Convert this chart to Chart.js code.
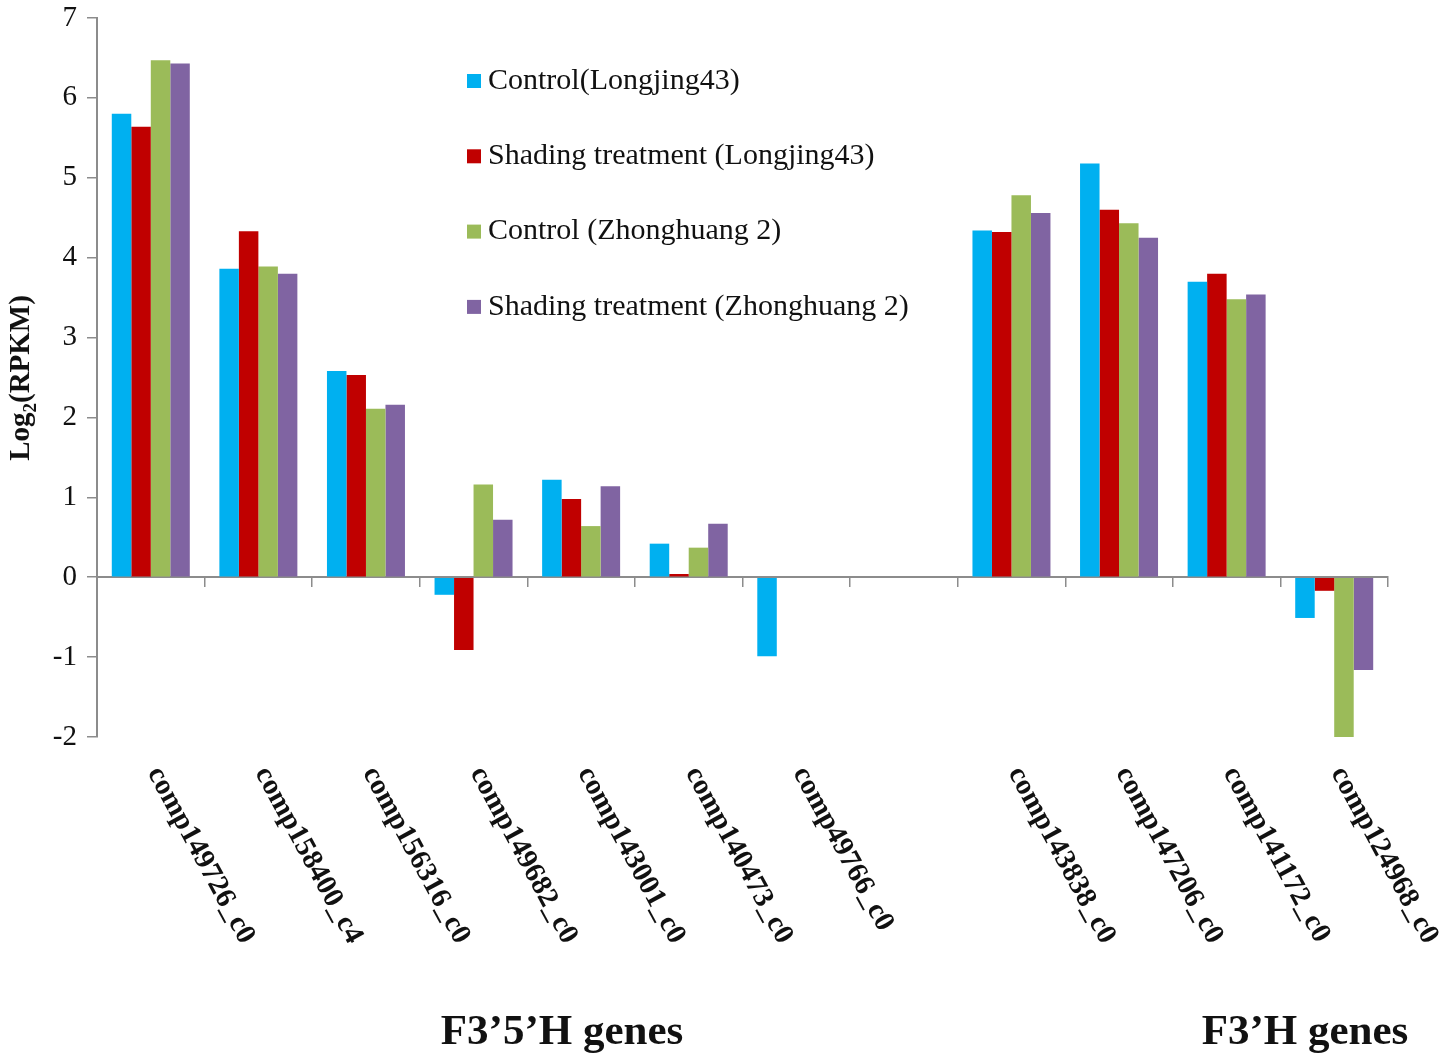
<!DOCTYPE html>
<html>
<head>
<meta charset="utf-8">
<script src="https://cdn.jsdelivr.net/npm/chart.js@4/dist/chart.umd.min.js"></script>
<style>
  html, body { margin: 0; padding: 0; background: #fff; }
  #wrap { position: relative; width: 1455px; height: 1057px; }
</style>
</head>
<body>
<div id="wrap"><canvas id="genesChart"></canvas></div>
<script>
const categories = ['comp149726_c0', 'comp158400_c4', 'comp156316_c0', 'comp149682_c0', 'comp143001_c0',
  'comp140473_c0', 'comp49766_c0', '', 'comp143838_c0', 'comp147206_c0', 'comp141172_c0', 'comp124968_c0'];

const controlLongjing = [5.80, 3.86, 2.58, -0.22, 1.22, 0.42, -0.99, null, 4.34, 5.18, 3.70, -0.51];
const shadingLongjing = [5.64, 4.33, 2.53, -0.91, 0.98, 0.04, null, null, 4.32, 4.60, 3.80, -0.17];
const controlZhonghuang = [6.47, 3.89, 2.11, 1.16, 0.64, 0.37, null, null, 4.78, 4.43, 3.48, -2.0];
const shadingZhonghuang = [6.43, 3.80, 2.16, 0.72, 1.14, 0.67, null, null, 4.56, 4.25, 3.54, -1.16];

const seriesLabels = ['Control(Longjing43)', 'Shading treatment (Longjing43)',
  'Control (Zhonghuang 2)', 'Shading treatment (Zhonghuang 2)'];
const seriesColors = ['#00B0F0', '#C00000', '#9BBB59', '#8064A2'];

const yTicks = { min: -2, max: 7, step: 1 };
const groupTitles = [
  { text: 'F3\u20195\u2019H genes', x: 562 },
  { text: 'F3\u2019H genes', x: 1305 }
];

const serif = '"Liberation Serif", "Times New Roman", serif';
const axisGrey = '#8c8c8c';

// legend, rotated category labels, y title and group titles
const annotations = {
  id: 'annotations',
  afterDraw(chart) {
    const ctx = chart.ctx;
    const x = chart.scales.x;
    ctx.save();
    ctx.fillStyle = '#111';

    // category labels, turned clockwise
    ctx.font = 'bold 29px ' + serif;
    ctx.textAlign = 'left';
    ctx.textBaseline = 'middle';
    categories.forEach((name, i) => {
      if (!name) return;
      const px = x.getPixelForValue(i);
      ctx.save();
      ctx.translate(px + 3, 769);
      ctx.rotate(61.5 * Math.PI / 180);
      ctx.fillText(name, 0, 0);
      ctx.restore();
    });

    // y axis title with subscript
    ctx.save();
    ctx.translate(22, 378);
    ctx.rotate(-Math.PI / 2);
    ctx.font = 'bold 29px ' + serif;
    const w1 = ctx.measureText('Log').width;
    ctx.font = 'bold 19px ' + serif;
    const w2 = ctx.measureText('2').width;
    ctx.font = 'bold 29px ' + serif;
    const w3 = ctx.measureText('(RPKM)').width;
    let start = -(w1 + w2 + w3) / 2;
    ctx.textBaseline = 'middle';
    ctx.fillText('Log', start, 0);
    ctx.font = 'bold 19px ' + serif;
    ctx.fillText('2', start + w1, 9);
    ctx.font = 'bold 29px ' + serif;
    ctx.fillText('(RPKM)', start + w1 + w2, 0);
    ctx.restore();

    // legend
    ctx.font = '30px ' + serif;
    ctx.textBaseline = 'middle';
    chart.data.datasets.forEach((ds, i) => {
      const cy = 81 + i * 75.3;
      ctx.fillStyle = ds.backgroundColor;
      ctx.fillRect(467, cy - 7, 14, 14);
      ctx.fillStyle = '#111';
      ctx.fillText(ds.label, 488, cy);
    });

    // group titles
    ctx.font = 'bold 43px ' + serif;
    ctx.textAlign = 'center';
    groupTitles.forEach(g => ctx.fillText(g.text, g.x, 1033));
    ctx.restore();
  }
};

const ctx = document.getElementById('genesChart').getContext('2d');
new Chart(ctx, {
  type: 'bar',
  data: {
    labels: categories,
    datasets: [controlLongjing, shadingLongjing, controlZhonghuang, shadingZhonghuang].map((values, i) => ({
      label: seriesLabels[i],
      data: values,
      backgroundColor: seriesColors[i],
      borderWidth: 0,
      barPercentage: 1,
      categoryPercentage: 0.725
    }))
  },
  options: {
    responsive: true,
    maintainAspectRatio: false,
    animation: false,
    layout: { padding: { top: 18, right: 67, bottom: 320, left: 0 } },
    scales: {
      x: {
        position: { y: 0 },
        ticks: { display: false },
        grid: {
          offset: true,
          drawOnChartArea: false,
          drawTicks: true,
          tickLength: 9,
          color: axisGrey,
          lineWidth: 1.5
        },
        border: { color: axisGrey, width: 2 }
      },
      y: {
        min: yTicks.min,
        max: yTicks.max,
        afterFit(scale) {
          scale.width = 97;
          scale.paddingTop = 0;
          scale.paddingBottom = 0;
        },
        ticks: {
          stepSize: yTicks.step,
          padding: 10,
          color: '#111',
          font: { family: serif, size: 29 }
        },
        grid: {
          drawOnChartArea: false,
          tickLength: 10,
          color: axisGrey,
          lineWidth: 1.5
        },
        border: { color: axisGrey, width: 2 }
      }
    },
    plugins: {
      legend: { display: false },
      tooltip: { enabled: false }
    }
  },
  plugins: [annotations]
});
</script>
</body>
</html>
